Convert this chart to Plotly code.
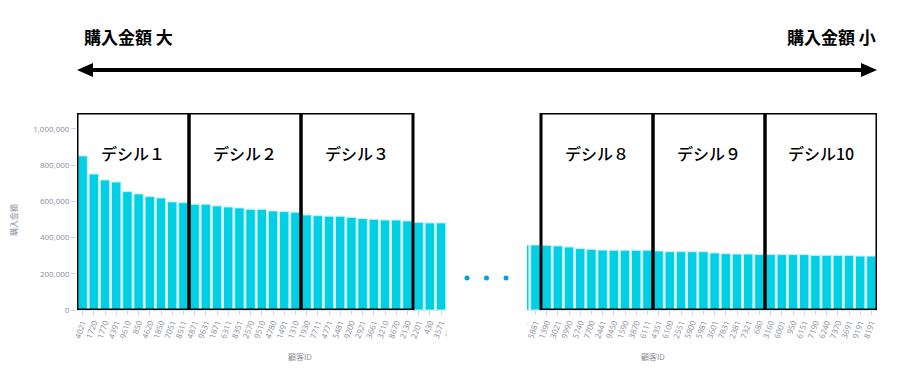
import plotly.graph_objects as go

W, H = 911, 379

# ---- data ----
left_ids = ["4021", "1720", "1770", "4391", "9610", "850", "4620", "1850", "7051", "8511",
            "4871", "9631", "1871", "6311", "8351", "2570", "9510", "4780", "1491", "1310",
            "1930", "7711", "4771", "5481", "9200", "2921", "3661", "3210", "8670", "2130",
            "2201", "430", "3571", "4571"]
left_vals = [851000, 751000, 718000, 707000, 654000, 641000, 626000, 619000, 597000, 593000,
             584000, 584000, 575000, 569000, 564000, 556000, 556000, 547000, 543000, 540000,
             525000, 521000, 518000, 518000, 512000, 505000, 501000, 497000, 497000, 492000,
             484000, 481000, 481000, 478000]

right_ids = ["3471", "5881",
             "1390", "3021", "9990", "5740", "7700", "2441", "9450", "1590", "3870", "6111",
             "4351", "6100", "2551", "5900", "5981", "3601", "7831", "2381", "7321", "680",
             "3160", "6001", "950", "6151", "7190", "6240", "7370", "3691", "9191", "8191"]
right_vals = [359000, 359000,
              357000, 354000, 348000, 339000, 335000, 331000, 330000, 330000, 330000, 330000,
              326000, 322000, 322000, 322000, 322000, 315000, 311000, 309000, 309000, 306000,
              306000, 306000, 306000, 306000, 302000, 302000, 302000, 302000, 298000, 298000]

left_deciles = ["デシル１", "デシル２", "デシル３"]
right_deciles = ["デシル８", "デシル９", "デシル10"]
y_ticks = [0, 200000, 400000, 600000, 800000, 1000000]
y_max = 1088000

BAR = "rgb(0,207,230)"
BAR_LINE = "rgb(190,242,250)"
GRAY = "rgb(140,140,160)"
JP = "Noto Sans CJK JP"
OFF = 8  # page body margin

def px(x):
    return (x - OFF) / W

def py(y):
    return 1 - (y - OFF) / H

fig = go.Figure()
fig.add_trace(go.Bar(x=list(range(len(left_ids))), y=left_vals, xaxis="x", yaxis="y",
                     marker=dict(color=BAR, line=dict(color=BAR_LINE, width=1)),
                     showlegend=False))
fig.add_trace(go.Bar(x=list(range(len(right_ids))), y=right_vals, xaxis="x2", yaxis="y2",
                     marker=dict(color=BAR, line=dict(color=BAR_LINE, width=1)),
                     showlegend=False))

plot_top, plot_bot = 113, 310
ydom = [py(plot_bot), py(plot_top)]
cat = 11.2
l0 = 77
r1 = 877
r0 = r1 - cat * len(right_ids)

tickfont = dict(family="Open Sans", size=8, color=GRAY)
common_x = dict(tickangle=-70, tickfont=tickfont, ticks="outside", ticklen=4,
                tickcolor="rgb(210,210,220)", showgrid=False, zeroline=False,
                showline=True, linecolor="rgb(225,225,230)", automargin=False, tickmode="array")
fig.update_layout(
    width=W, height=H, margin=dict(l=0, r=0, t=0, b=0), autosize=False,
    plot_bgcolor="white", paper_bgcolor="white", bargap=0.16,
    xaxis=dict(domain=[px(l0), px(l0 + cat * len(left_ids))], range=[-0.5, len(left_ids) - 0.5],
               tickvals=list(range(len(left_ids))), ticktext=left_ids, **common_x),
    xaxis2=dict(domain=[px(r0), px(r1)], range=[-0.5, len(right_ids) - 0.5], anchor="y2",
                tickvals=list(range(len(right_ids))), ticktext=right_ids, **common_x),
    yaxis=dict(domain=ydom, range=[0, y_max], tickvals=y_ticks, tickformat=",",
               tickfont=tickfont, ticks="outside", ticklen=5, tickcolor="rgb(210,210,220)",
               showgrid=False, zeroline=False, showline=False, automargin=False),
    yaxis2=dict(domain=ydom, range=[0, y_max], anchor="x2", showticklabels=False,
                showgrid=False, zeroline=False, showline=False, ticks=""),
)

shapes = []
# cover the cropped ends
shapes.append(dict(type="rect", xref="paper", yref="paper", x0=px(446.8), x1=px(470),
                   y0=py(360), y1=py(100), fillcolor="white", line=dict(width=0), layer="above"))
shapes.append(dict(type="rect", xref="paper", yref="paper", x0=px(512), x1=px(527),
                   y0=py(360), y1=py(100), fillcolor="white", line=dict(width=0), layer="above"))

dec_font = dict(family=JP, size=16, color="black", weight=500)
annotations = []
for i, name in enumerate(left_deciles):
    a, b = i * 10 - 0.5, i * 10 + 9.5
    shapes.append(dict(type="rect", xref="x", yref="y", x0=a, x1=b, y0=0, y1=y_max,
                       line=dict(color="black", width=3), layer="above"))
    annotations.append(dict(xref="x", yref="paper", x=(a + b) / 2, y=py(153), text=name,
                            xanchor="center", yanchor="middle", showarrow=False, font=dec_font))
for i, name in enumerate(right_deciles):
    a, b = 2 + i * 10 - 0.5, 2 + i * 10 + 9.5
    shapes.append(dict(type="rect", xref="x2", yref="y2", x0=a, x1=b, y0=0, y1=y_max,
                       line=dict(color="black", width=3), layer="above"))
    annotations.append(dict(xref="x2", yref="paper", x=(a + b) / 2, y=py(153), text=name,
                            xanchor="center", yanchor="middle", showarrow=False, font=dec_font))

# dots between the two halves
for xc in [467, 486.5, 506]:
    shapes.append(dict(type="circle", xref="paper", yref="paper",
                       x0=px(xc - 2.5), x1=px(xc + 2.5), y0=py(278 + 2.5), y1=py(278 - 2.5),
                       fillcolor="rgb(0,160,225)", line=dict(width=0), layer="above"))

# double headed arrow
ay = 70
shapes.append(dict(type="line", xref="paper", yref="paper", x0=px(88), x1=px(866),
                   y0=py(ay), y1=py(ay), line=dict(color="black", width=4)))
shapes.append(dict(type="path", xref="paper", yref="paper",
                   path=f"M {px(77)} {py(ay)} L {px(93)} {py(ay - 7)} L {px(93)} {py(ay + 7)} Z",
                   fillcolor="black", line=dict(width=0)))
shapes.append(dict(type="path", xref="paper", yref="paper",
                   path=f"M {px(877)} {py(ay)} L {px(861)} {py(ay - 7)} L {px(861)} {py(ay + 7)} Z",
                   fillcolor="black", line=dict(width=0)))

head_font = dict(family=JP, size=17, color="black", weight="bold")
small_font = dict(family=JP, size=8, color=GRAY)
annotations += [
    dict(xref="paper", yref="paper", x=px(82), y=py(36), xanchor="left", yanchor="middle",
         text="購入金額 大", showarrow=False, font=head_font),
    dict(xref="paper", yref="paper", x=px(878), y=py(36), xanchor="right", yanchor="middle",
         text="購入金額 小", showarrow=False, font=head_font),
    dict(xref="paper", yref="paper", x=px(300), y=py(356), xanchor="center", yanchor="middle",
         text="顧客ID", showarrow=False, font=small_font),
    dict(xref="paper", yref="paper", x=px(653), y=py(356), xanchor="center", yanchor="middle",
         text="顧客ID", showarrow=False, font=small_font),
    dict(xref="paper", yref="paper", x=px(13), y=py(220), xanchor="center", yanchor="middle",
         text="購入金額", textangle=-90, showarrow=False, font=small_font),
]
fig.update_layout(shapes=shapes, annotations=annotations)

fig.write_html("out.html")
